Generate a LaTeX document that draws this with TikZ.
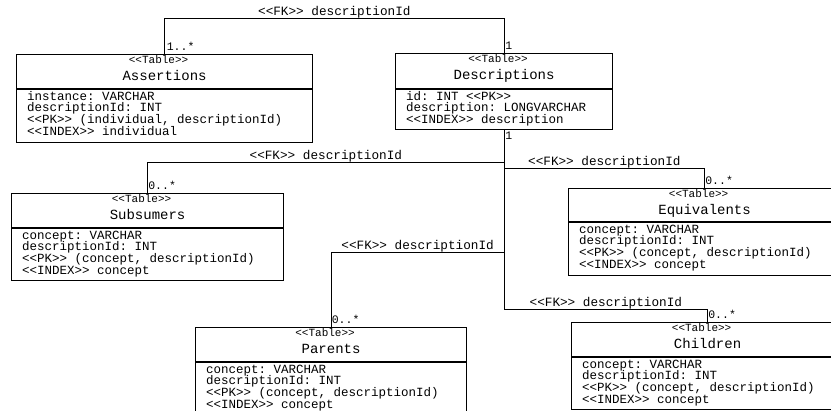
\documentclass[tikz,border=0pt]{standalone}
\usepackage{fontspec}
\setmonofont{Liberation Mono}
\frenchspacing
\tikzset{
  tbl/.style={draw=black, line width=1.2pt, rectangle, anchor=north west, inner sep=0pt},
  stereo/.style={font=\ttfamily\fontsize{11}{11}\selectfont, anchor=base, inner sep=0pt},
  ttitle/.style={font=\ttfamily\fontsize{14}{14}\selectfont, anchor=base, inner sep=0pt},
  rowtxt/.style={font=\ttfamily\fontsize{12.5}{12}\selectfont, anchor=base west, inner sep=0pt},
  conn/.style={draw=black, line width=1pt},
  fk/.style={font=\ttfamily\fontsize{12.7}{12}\selectfont, anchor=base, inner sep=0pt, yshift=3pt},
  mult/.style={font=\ttfamily\fontsize{11.5}{12}\selectfont, anchor=base west, inner sep=0pt},
}
% name, x, y, width, header height, body height, title, rows
\newcommand{\dbtable}[8]{%
  \node[tbl, minimum width=#4pt, minimum height=#5pt] (#1) at (#2,#3) {};
  \node[tbl, minimum width=#4pt, minimum height=#6pt] (#1b) at (#1.south west) {};
  \node[stereo] (#1s) at ([xshift=-6pt,yshift=-10pt]#1.north) {<<Table>>};
  \node[ttitle] (#1t) at ([yshift=-27pt]#1.north) {#7};
  \foreach \rr [count=\kk] in {#8} {
    \node[rowtxt] (#1r\kk) at ([xshift=11pt, yshift={-11pt-(\kk-1)*11.7pt}]#1b.north west) {\rr};
  }
}
\begin{document}
\begin{tikzpicture}[x=1pt,y=-1pt]
\useasboundingbox (0,0) rectangle (831,411);
\clip (0,0) rectangle (831,411);
\fill[white] (0,0) rectangle (831,411);

\dbtable{A}{16}{54}{296}{34}{53}{Assertions}{instance: VARCHAR, descriptionId: INT, {<<PK>> (individual, descriptionId)}, <<INDEX>> individual}
\dbtable{D}{395}{53}{217}{35}{40}{Descriptions}{id: INT <<PK>>, description: LONGVARCHAR, <<INDEX>> description}
\dbtable{S}{11}{193}{272}{34}{52}{Subsumers}{concept: VARCHAR, descriptionId: INT, {<<PK>> (concept, descriptionId)}, <<INDEX>> concept}
\dbtable{E}{568}{188}{272}{33}{53}{Equivalents}{concept: VARCHAR, descriptionId: INT, {<<PK>> (concept, descriptionId)}, <<INDEX>> concept}
\dbtable{P}{195}{327}{271}{34}{53}{Parents}{concept: VARCHAR, descriptionId: INT, {<<PK>> (concept, descriptionId)}, <<INDEX>> concept}
\dbtable{C}{571}{322}{272}{34}{52}{Children}{concept: VARCHAR, descriptionId: INT, {<<PK>> (concept, descriptionId)}, <<INDEX>> concept}

% connectors
\draw[conn] (A.north) -- (A.north |- 0,19) -| node[pos=0.25, fk] (l1) {<<FK>> descriptionId} (D.north);
\draw[conn] (Db.south) -- (Db.south |- 0,310);
\draw[conn] (Db.south) -- (Db.south |- 0,163) -| node[pos=0.25, fk] (l2) {<<FK>> descriptionId} (S.north);
\draw[conn] (Db.south) -- (Db.south |- 0,169) -| node[pos=0.25, fk] (l3) {<<FK>> descriptionId} (E.north);
\draw[conn] (Db.south) -- (Db.south |- 0,253) -| node[pos=0.25, fk] (l4) {<<FK>> descriptionId} (P.north);
\draw[conn] (Db.south) -- (Db.south |- 0,310) -| node[pos=0.25, fk] (l5) {<<FK>> descriptionId} (C.north);

% multiplicities
\node[mult] (m1) at ([xshift=2pt,yshift=3.5pt]A.north) {1..*};
\node[mult] (m2) at ([xshift=1pt,yshift=3.5pt]D.north) {1};
\node[mult] (m3) at ([xshift=1pt,yshift=-9pt]Db.south) {1};
\node[mult] (m4) at ([xshift=0.5pt,yshift=3pt]S.north) {0..*};
\node[mult] (m5) at ([xshift=0.5pt,yshift=3pt]E.north) {0..*};
\node[mult] (m6) at ([xshift=0.5pt,yshift=3pt]P.north) {0..*};
\node[mult] (m7) at ([xshift=0.5pt,yshift=3pt]C.north) {0..*};
\end{tikzpicture}
\end{document}
